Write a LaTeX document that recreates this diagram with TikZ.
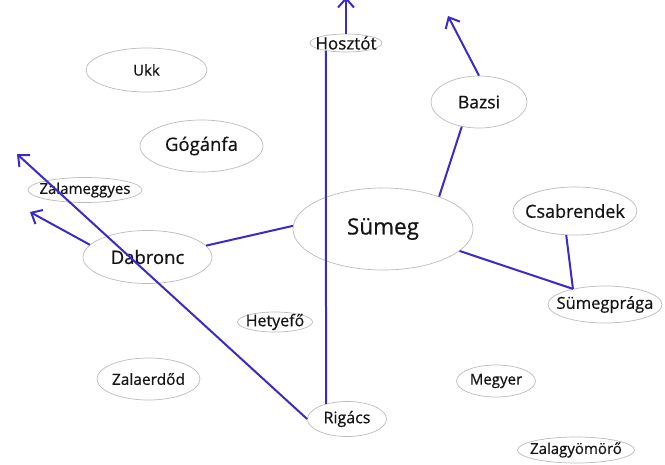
\documentclass[tikz,border=0pt]{standalone}
\usepackage{fontspec}
\setmainfont{Open Sans}[FakeBold=0.6]
\usepackage{tikz}
\usetikzlibrary{shapes.geometric, arrows.meta}
\definecolor{MAP_LINK}{HTML}{3A2BC9}
\definecolor{MAP_RIM}{HTML}{BBBBBB}
\definecolor{MAP_TEXT}{HTML}{141414}
\tikzset{
  spot/.style={
    ellipse, draw=MAP_RIM, line width=0.7pt, inner sep=0pt},
  placename/.style={text=MAP_TEXT, font=\fontsize{#1}{#1}\selectfont},
  link/.style={color=MAP_LINK, line width=2pt},
  arr/.style={link, -{Straight Barb[length=9pt,width=16pt]}},
}
\begin{document}
\begin{tikzpicture}[x=1pt, y=-1pt]
  \useasboundingbox (0,0) rectangle (665,464);

  % places
  \node[spot, minimum width=180pt, minimum height=82pt,
    label={[placename=22.5]center:Sümeg}] (sumeg) at (383,229) {};
  \node[spot, minimum width=121pt, minimum height=44pt,
    label={[placename=15]center:Ukk}] (ukk) at (146.5,70) {};
  \node[spot, minimum width=123pt, minimum height=52pt,
    label={[placename=18.5]center:Gógánfa}] (gog) at (201.5,146) {};
  \node[spot, minimum width=72pt, minimum height=18pt,
    label={[placename=17]center:Hosztót}] (hosz) at (346,43) {};
  \node[spot, minimum width=96pt, minimum height=52pt,
    label={[placename=17.5]center:Bazsi}] (bazsi) at (479,102) {};
  \node[spot, minimum width=114pt, minimum height=25pt,
    label={[placename=15]center:Zalameggyes}] (zmeg) at (85,190) {};
  \node[spot, minimum width=129pt, minimum height=53pt,
    label={[placename=18.5]center:Dabronc}] (dab) at (147.5,257) {};
  \node[spot, minimum width=124pt, minimum height=48pt,
    label={[placename=18]center:Csabrendek}] (csab) at (575,211) {};
  \node[spot, minimum width=114pt, minimum height=37pt,
    label={[placename=16.5]center:Sümegprága}] (prag) at (605,304.5) {};
  \node[spot, minimum width=75pt, minimum height=20pt,
    label={[placename=16]center:Hetyefő}] (hety) at (275,322) {};
  \node[spot, minimum width=103pt, minimum height=42pt,
    label={[placename=15.5]center:Zalaerdőd}] (zerd) at (148.5,379) {};
  \node[spot, minimum width=79pt, minimum height=32pt,
    label={[placename=15]center:Megyer}] (megy) at (496,381) {};
  \node[spot, minimum width=79pt, minimum height=35pt,
    label={[placename=16]center:Rigács}] (rig) at (347,419) {};
  \node[spot, minimum width=117pt, minimum height=26pt,
    label={[placename=15]center:Zalagyömörő}] (zgyom) at (576,450) {};

  % free ends of the arrows
  \coordinate (hosztip) at (346,-3);
  \coordinate (bazsitip) at (448,16);
  \coordinate (dabtip) at (30,212);
  \coordinate (rigtip) at (17,154);

  % roads
  \draw[link] (rig.144) -- (hosz.201);
  \draw[link] (bazsi.235) -- (sumeg.30);
  \draw[link] (sumeg.178) -- (dab.11);
  \draw[link] (sumeg.344) -- (prag.154);
  \draw[link] (csab.250) -- (prag.154);
  \draw[arr] (hosz.north) -- (hosztip);
  \draw[arr] (bazsi.north) -- (bazsitip);
  \draw[arr] (dab.168) -- (dabtip);
  \draw[arr] (rig.west) -- (rigtip);

\end{tikzpicture}
\end{document}
